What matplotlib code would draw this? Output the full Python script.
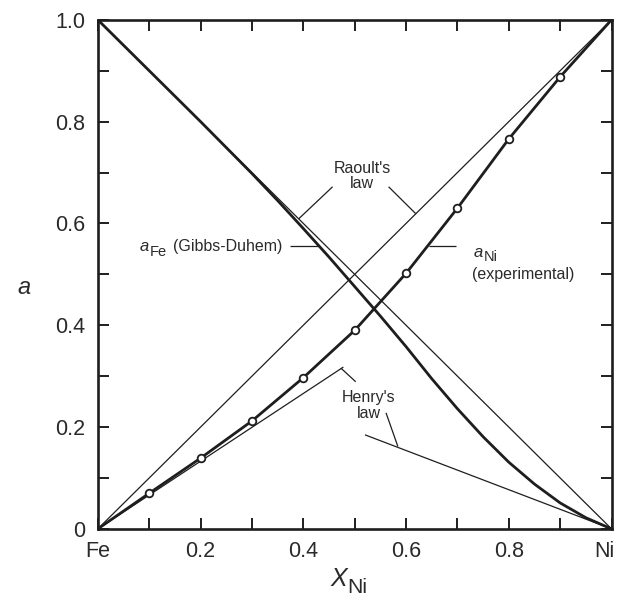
import matplotlib
matplotlib.use("Agg")
import matplotlib.pyplot as plt
from matplotlib.ticker import MultipleLocator, FixedLocator, FixedFormatter
from matplotlib.transforms import ScaledTranslation
import numpy as np

plt.rcParams["font.family"] = ["Liberation Sans", "DejaVu Sans"]

INK = "#1e1e1e"
TEXT = "#2a2a2a"

# experimental Ni activity
x_exp = [0.1, 0.2, 0.3, 0.4, 0.5, 0.6, 0.7, 0.8, 0.9]
a_ni_exp = [0.070, 0.139, 0.212, 0.297, 0.390, 0.502, 0.630, 0.766, 0.888]

# a_Ni curve drawn through the points
x_ni_curve = [0.0] + x_exp + [1.0]
a_ni_curve = [0.0] + a_ni_exp + [1.0]

# a_Fe from Gibbs-Duhem integration
x_fe_curve = [0.0, 0.1, 0.2, 0.3, 0.35, 0.4, 0.45, 0.5, 0.55, 0.6, 0.65,
              0.7, 0.75, 0.8, 0.85, 0.9, 0.95, 1.0]
a_fe_curve = [1.0, 0.900, 0.800, 0.698, 0.645, 0.590, 0.534, 0.476, 0.418, 0.358, 0.295,
              0.236, 0.181, 0.131, 0.088, 0.051, 0.022, 0.0]

# Raoult's law lines
raoult_x = [0.0, 1.0]
raoult_ni = [0.0, 1.0]
raoult_fe = [1.0, 0.0]

# Henry's law lines
henry_ni_slope = 0.665
henry_ni_x = np.array([0.0, 0.478])
henry_fe_slope = 0.385
henry_fe_x = np.array([0.52, 1.0])

x_tick_vals = [0.0, 0.2, 0.4, 0.6, 0.8, 1.0]
x_tick_labels = ["Fe", "0.2", "0.4", "0.6", "0.8", "Ni"]
y_tick_vals = [0.0, 0.2, 0.4, 0.6, 0.8, 1.0]
y_tick_labels = ["0", "0.2", "0.4", "0.6", "0.8", "1.0"]


def subscript_label(ax, x, y, base, sub, size, drop=3.5, sub_scale=0.88,
                    transform=None, ha="left"):
    """Italic base letter with a near full-size upright subscript."""
    renderer = ax.figure.canvas.get_renderer()
    transform = transform or ax.transData
    base_t = ax.text(x, y, base, fontsize=size, style="italic", color=TEXT,
                     va="baseline", ha="left", transform=transform)
    sub_t = ax.annotate(sub, xy=(x, y), xycoords=transform, textcoords="offset points",
                        xytext=(0, -drop), fontsize=size * sub_scale, color=TEXT,
                        va="baseline", ha="left")
    base_w = base_t.get_window_extent(renderer).width * 72 / ax.figure.dpi
    sub_w = sub_t.get_window_extent(renderer).width * 72 / ax.figure.dpi
    shift = 0.0
    if ha == "center":
        shift = -(base_w + sub_w) / 2
    elif ha == "right":
        shift = -(base_w + sub_w)
    base_t.set_transform(transform + ScaledTranslation(shift / 72, 0, ax.figure.dpi_scale_trans))
    sub_t.xyann = (base_w + shift + 0.5, -drop)


fig = plt.figure(figsize=(6.19, 5.99), dpi=100)
ax = fig.add_axes([0.158, 0.117, 0.830, 0.850])
fig.canvas.draw()

thin = dict(color=INK, lw=0.9, solid_capstyle="butt")
thick = dict(color=INK, lw=2.0)

ax.plot(raoult_x, raoult_ni, **thin)
ax.plot(raoult_x, raoult_fe, **thin)
ax.plot(henry_ni_x, henry_ni_slope * henry_ni_x, **thin)
ax.plot(henry_fe_x, henry_fe_slope * (1 - henry_fe_x), **thin)
ax.plot(x_fe_curve, a_fe_curve, **thick)
ax.plot(x_ni_curve, a_ni_curve, **thick)
ax.plot(x_exp, a_ni_exp, "o", ms=5.5, mfc="white", mec=INK, mew=1.3, zorder=5)

# annotations with leader lines
fs = 11.5
ax.text(0.514, 0.693, "Raoult's\nlaw", ha="center", va="center", fontsize=fs,
        color=TEXT, linespacing=1.05)
ax.plot([0.457, 0.391], [0.672, 0.609], **thin)
ax.plot([0.566, 0.619], [0.672, 0.619], **thin)

ax.text(0.359, 0.546, "(Gibbs-Duhem)", ha="right", va="baseline", fontsize=fs, color=TEXT)
subscript_label(ax, 0.081, 0.546, "a", "Fe", fs + 0.5)
ax.plot([0.375, 0.428], [0.555, 0.555], **thin)

subscript_label(ax, 0.731, 0.535, "a", "Ni", fs + 0.5)
ax.text(0.729, 0.499, "(experimental)", ha="left", va="center", fontsize=fs, color=TEXT)
ax.plot([0.645, 0.697], [0.556, 0.556], **thin)

ax.text(0.527, 0.242, "Henry's\nlaw", ha="center", va="center", fontsize=fs,
        color=TEXT, linespacing=1.05)
ax.plot([0.502, 0.473], [0.289, 0.316], **thin)
ax.plot([0.561, 0.584], [0.228, 0.162], **thin)

ax.set_xlim(0, 1)
ax.set_ylim(0, 1)
ax.xaxis.set_major_locator(FixedLocator(x_tick_vals))
ax.xaxis.set_major_formatter(FixedFormatter(x_tick_labels))
ax.yaxis.set_major_locator(FixedLocator(y_tick_vals))
ax.yaxis.set_major_formatter(FixedFormatter(y_tick_labels))
ax.xaxis.set_minor_locator(MultipleLocator(0.1))
ax.yaxis.set_minor_locator(MultipleLocator(0.1))
ax.tick_params(which="both", direction="in", top=True, right=True,
               length=8, width=1.4, color=INK)
ax.tick_params(which="major", labelsize=15.5, labelcolor=TEXT, pad=9)
for spine in ax.spines.values():
    spine.set_linewidth(1.9)
    spine.set_color(INK)

# keep the "Ni" end label inside the canvas
ni_label = ax.get_xticklabels()[-1]
ni_label.set_transform(ni_label.get_transform() + ScaledTranslation(-5 / 72, 0, fig.dpi_scale_trans))

ax.text(-0.143, 0.475, "a", transform=ax.transAxes, ha="center", va="center",
        fontsize=17, style="italic", color=TEXT)
subscript_label(ax, 0.488, -0.113, "X", "Ni", 18, drop=5, sub_scale=0.85,
                transform=ax.transAxes, ha="center")

fig.savefig("out.png", dpi=100)
plt.close(fig)
